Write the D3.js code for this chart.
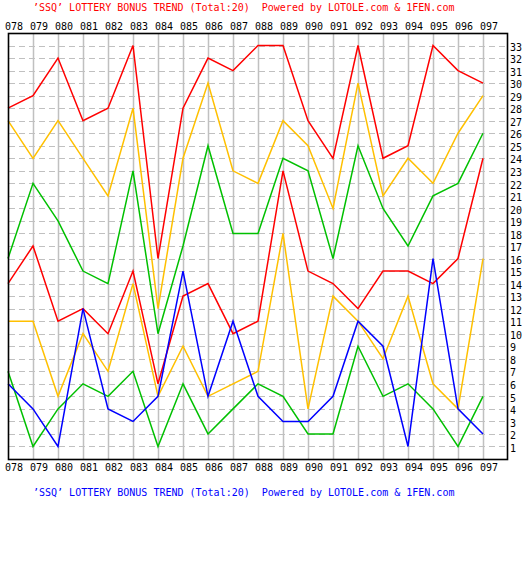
<!DOCTYPE html>
<html>
<head>
<meta charset="utf-8">
<script src="https://cdn.jsdelivr.net/npm/d3@7"></script>
<style>
  html, body { margin: 0; padding: 0; background: #fff; }
  svg { display: block; }
  text { font-family: "DejaVu Sans Mono", monospace; font-size: 10px; }
</style>
</head>
<body>
<script>
// ---- data ----
const categories = ["078","079","080","081","082","083","084","085","086","087",
                    "088","089","090","091","092","093","094","095","096","097"];
const red6   = [28,29,32,27,28,33,16,28,32,31,33,33,27,24,33,24,25,33,31,30];
const red5   = [27,24,27,24,21,28,12,24,30,23,22,27,25,20,30,21,24,22,26,29];
const red4   = [16,22,19,15,14,23,10,17,25,18,18,24,23,16,25,20,17,21,22,26];
const red3   = [14,17,11,12,10,15,6,13,14,10,11,23,15,14,12,15,15,14,16,24];
const red2   = [11,11,5,10,7,14,5,9,5,6,7,18,4,13,11,8,13,6,4,16];
const red1   = [7,1,4,6,5,7,1,6,2,4,6,5,2,2,9,5,6,4,1,5];
const blue   = [6,4,1,12,4,3,5,15,5,11,5,3,3,5,11,9,1,16,4,2];
const yTicks = d3.range(1, 34);
const titleText = "\u2019SSQ\u2019 LOTTERY BONUS TREND (Total:20)  Powered by LOTOLE.com & 1FEN.com";

const series = [
  {values: red6, color: "#ff0000"},
  {values: red5, color: "#ffc000"},
  {values: red4, color: "#00c000"},
  {values: red3, color: "#ff0000"},
  {values: red2, color: "#ffc000"},
  {values: red1, color: "#00c000"},
  {values: blue, color: "#0000ff"}
];

// ---- layout ----
const W = 523, H = 565;
const pLeft = 8, pRight = 507, pTop = 33, pBottom = 459;

const svg = d3.select("body").append("svg").attr("width", W).attr("height", H);

const x = d3.scalePoint().domain(categories).range([pLeft, 483]);
const y = d3.scaleLinear().domain([0, 34]).range([pBottom, pTop]);

// titles
svg.append("text").attr("x", 33).attr("y", 10.5).attr("fill", "#ff0000")
  .attr("xml:space", "preserve").style("white-space", "pre").text(titleText);
svg.append("text").attr("x", 33).attr("y", 496).attr("fill", "#0000ff")
  .attr("xml:space", "preserve").style("white-space", "pre").text(titleText);

// horizontal dashed grid
svg.append("g").selectAll("line").data(yTicks).join("line")
  .attr("x1", pLeft + 1).attr("x2", pRight)
  .attr("y1", d => Math.round(y(d)) + 0.5).attr("y2", d => Math.round(y(d)) + 0.5)
  .attr("stroke", "#c0c0c0").attr("stroke-width", 1)
  .attr("stroke-dasharray", "6,4").attr("shape-rendering", "crispEdges");

// vertical grid
svg.append("g").selectAll("line").data(categories.slice(1)).join("line")
  .attr("x1", d => x(d) + 0.5).attr("x2", d => x(d) + 0.5)
  .attr("y1", pTop).attr("y2", pBottom)
  .attr("stroke", "#c0c0c0").attr("stroke-width", 1.5);

// axes (labels)
const gTop = svg.append("g").attr("transform", "translate(0,30)")
  .call(d3.axisTop(x).tickSize(0).tickPadding(0));
const gBot = svg.append("g").attr("transform", "translate(0,470.5)")
  .call(d3.axisTop(x).tickSize(0).tickPadding(0));
[gTop, gBot].forEach(g => {
  g.select(".domain").remove();
  g.selectAll("text").attr("text-anchor", "start").attr("dx", -3.5).attr("dy", 0)
    .attr("y", 0).attr("fill", "#000")
    .style("font-family", '"DejaVu Sans Mono", monospace').style("font-size", "10px");
});

const gRight = svg.append("g").attr("transform", `translate(${pRight},0)`)
  .call(d3.axisRight(y).tickValues(yTicks).tickSize(0).tickPadding(3).tickFormat(d3.format("d")));
gRight.select(".domain").remove();
gRight.selectAll("text").attr("dy", "0.47em").attr("fill", "#000")
  .style("font-family", '"DejaVu Sans Mono", monospace').style("font-size", "10px");

// lines
const line = d3.line().x((d, i) => x(categories[i])).y(d => y(d));
svg.append("g").selectAll("path").data(series).join("path")
  .attr("d", s => line(s.values))
  .attr("fill", "none").attr("stroke", s => s.color).attr("stroke-width", 1.5)
  .attr("stroke-linejoin", "miter");

// frame
svg.append("rect").attr("x", pLeft + 0.5).attr("y", pTop + 0.5)
  .attr("width", pRight - pLeft).attr("height", pBottom - pTop)
  .attr("fill", "none").attr("stroke", "#000").attr("stroke-width", 1.6);
</script>
</body>
</html>
